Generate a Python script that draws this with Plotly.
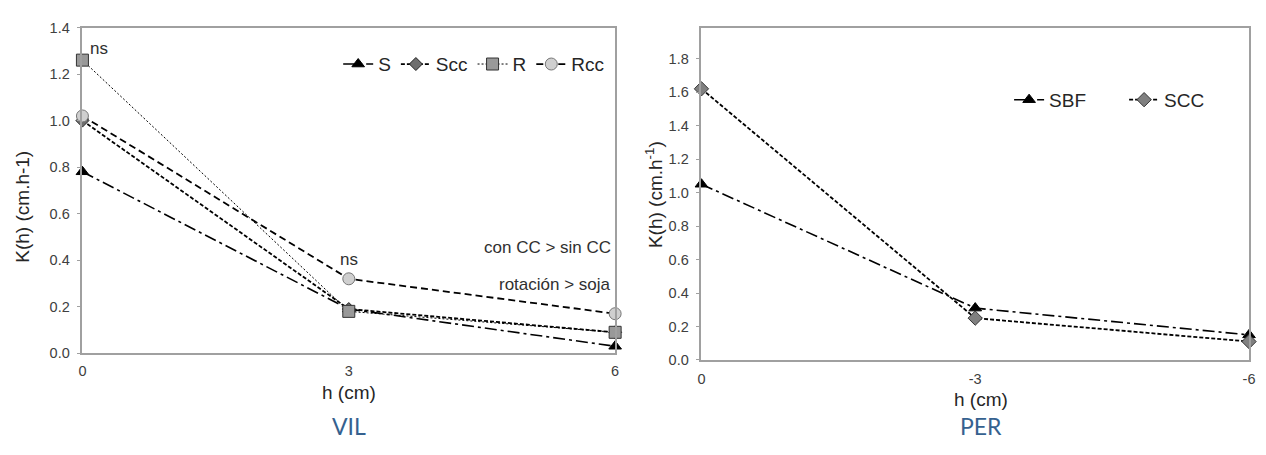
import plotly.graph_objects as go

# VIL data
h_vil = [0, 3, 6]
S = [0.78, 0.19, 0.03]
Scc = [1.00, 0.19, 0.09]
R = [1.26, 0.18, 0.09]
Rcc = [1.02, 0.32, 0.17]

# PER data
h_per = [0, -3, -6]
SBF = [1.05, 0.31, 0.15]
SCC = [1.62, 0.25, 0.11]

vil_yticks = [0.0, 0.2, 0.4, 0.6, 0.8, 1.0, 1.2, 1.4]
per_yticks = [0.0, 0.2, 0.4, 0.6, 0.8, 1.0, 1.2, 1.4, 1.6, 1.8]

OFF = 8  # default page body margin
W, H = 1266 - 2 * OFF, 455 - 2 * OFF
def px_x(p): return (p - OFF) / W
def px_y(p): return 1 - (p - OFF) / H

fig = go.Figure()

FAM = "Liberation Sans, Arial, sans-serif"
tick_font = dict(family=FAM, size=14.5, color="#404040")
title_font = dict(family=FAM, size=19, color="#262626")
axcol = "#A0A0A0"

def add(x, y, name, xa, ya, dash, width, symbol, mcolor, mline, msize, legend):
    fig.add_trace(go.Scatter(
        x=x, y=y, name=name, mode="lines+markers", xaxis=xa, yaxis=ya,
        line=dict(color="black", dash=dash, width=width),
        marker=dict(symbol=symbol, color=mcolor, size=msize, line=dict(color=mline, width=1)),
        legend=legend, cliponaxis=False))

add(h_vil, S, "S", "x", "y", "12px,4px,3px,4px", 1.6, "triangle-up", "black", "black", 11, "legend")
add(h_vil, Scc, "Scc", "x", "y", "4px,2px", 1.8, "diamond", "#6E6E6E", "#222222", 10, "legend")
add(h_vil, R, "R", "x", "y", "2px,2px", 1.0, "square", "#999999", "#333333", 12, "legend")
add(h_vil, Rcc, "Rcc", "x", "y", "7px,4px", 1.8, "circle", "#CFCFCF", "#777777", 12, "legend")

add(h_per, SBF, "SBF", "x2", "y2", "12px,4px,3px,4px", 1.6, "triangle-up", "black", "black", 11, "legend2")
add(h_per, SCC, "SCC", "x2", "y2", "4px,2px", 1.8, "diamond", "#808080", "#333333", 11, "legend2")

axis_common = dict(showline=True, linecolor=axcol, linewidth=1.5, mirror=True,
                   showgrid=False, zeroline=False, tickfont=tick_font)

leg_font = dict(family=FAM, size=19, color="#262626")

fig.update_layout(
    width=W, height=H,
    margin=dict(l=0, r=0, t=0, b=0),
    paper_bgcolor="white", plot_bgcolor="white",
    xaxis=dict(domain=[px_x(79), px_x(616)], range=[0, 6], tickvals=h_vil,
               ticktext=[str(v) for v in h_vil], ticks="", anchor="y",
               ticklabelstandoff=4, **axis_common),
    yaxis=dict(domain=[px_y(358), px_y(20)], range=[0, 1.4], tickvals=vil_yticks,
               tickformat=".1f", ticks="outside", ticklen=4, tickcolor=axcol, anchor="x",
               ticklabelstandoff=4, **axis_common),
    xaxis2=dict(domain=[px_x(703), px_x(1255)], range=[0, -6], tickvals=h_per,
                ticktext=[str(v) for v in h_per], ticks="", anchor="y2",
                ticklabelstandoff=5, **axis_common),
    yaxis2=dict(domain=[px_y(365), px_y(20)], range=[0, 1.986], tickvals=per_yticks,
                tickformat=".1f", ticks="outside", ticklen=4, tickcolor=axcol, anchor="x2",
                ticklabelstandoff=4, **axis_common),
    legend=dict(orientation="h", x=px_x(610), xanchor="right", y=px_y(58), yanchor="middle",
                font=leg_font, bgcolor="rgba(0,0,0,0)", itemwidth=30),
    legend2=dict(orientation="h", x=px_x(1245), xanchor="right", y=px_y(95), yanchor="middle",
                 font=leg_font, bgcolor="rgba(0,0,0,0)", itemwidth=30,
                 entrywidthmode="pixels", entrywidth=70),
    showlegend=True,
)

def paper_text(x, y, text, font, angle=0, xanchor="center"):
    fig.add_annotation(x=px_x(x), y=px_y(y), xref="paper", yref="paper", text=text,
                       showarrow=False, xanchor=xanchor, yanchor="middle", font=font,
                       textangle=angle)

# axis titles
paper_text(348, 399, "h (cm)", title_font)
paper_text(985, 406, "h (cm)", title_font)
paper_text(19, 206, "K(h) (cm.h-1)", title_font, angle=-90)
paper_text(655, 193, "K(h) (cm.h<sup>-1</sup>)", title_font, angle=-90)

ann_font = dict(family=FAM, size=17, color="#303030")
fig.add_annotation(x=0, y=R[0], xref="x", yref="y", text="ns", showarrow=False,
                   xanchor="left", yanchor="middle", xshift=6, yshift=12, font=ann_font)
fig.add_annotation(x=3, y=Rcc[1], xref="x", yref="y", text="ns", showarrow=False,
                   xanchor="center", yanchor="middle", yshift=19, font=ann_font)
paper_text(614, 248, "con CC &gt; sin CC", ann_font, xanchor="right")
paper_text(614, 287, "rotación &gt; soja", ann_font, xanchor="right")

lab_font = dict(family="Lato, Open Sans", size=23, color="#35618F")
paper_text(348, 433, "VIL", lab_font)
paper_text(985, 433, "PER", lab_font)

fig.write_html("out.html")
